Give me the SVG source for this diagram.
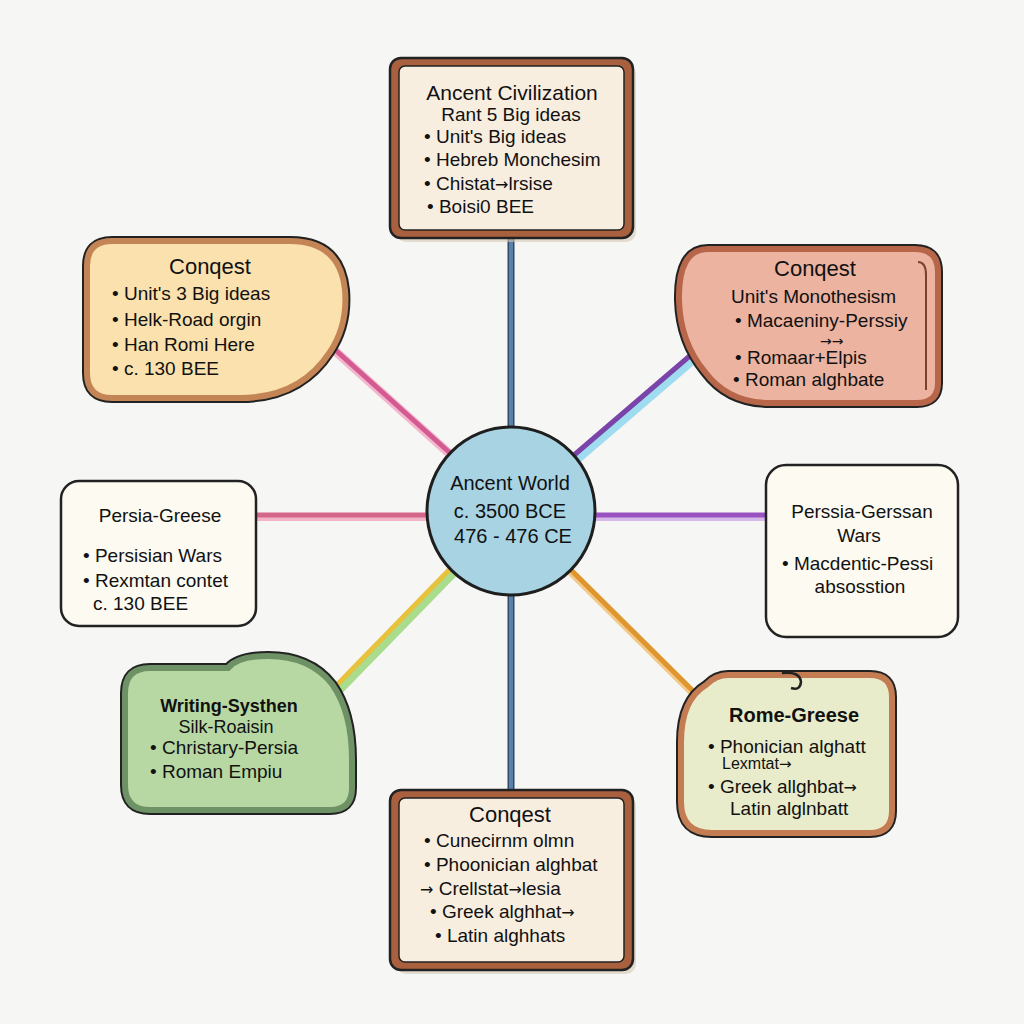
<svg xmlns="http://www.w3.org/2000/svg" width="1024" height="1024" viewBox="0 0 1024 1024">
<style>
text{font-family:"Liberation Sans",Arial,sans-serif;font-size:19px;fill:#111}
.t{font-size:22px;text-anchor:middle}
.c{text-anchor:middle}
.b{font-weight:bold}
.a{font-family:"DejaVu Sans",sans-serif;font-size:16px}
.ol{fill:none;stroke:#222;stroke-width:10;stroke-linejoin:round}
.ln{stroke-linecap:round;fill:none}
</style>
<rect width="1024" height="1024" fill="#f6f6f4"/>
<g id="connectors">
<line class="ln" x1="511" y1="238" x2="511" y2="430" stroke="#2f4a66" stroke-width="7"/>
<line class="ln" x1="511" y1="238" x2="511" y2="430" stroke="#5b82ab" stroke-width="4"/>
<line class="ln" x1="511" y1="592" x2="511" y2="792" stroke="#2f4a66" stroke-width="7"/>
<line class="ln" x1="511" y1="592" x2="511" y2="792" stroke="#5b82ab" stroke-width="4"/>
<line class="ln" x1="255" y1="517" x2="430" y2="517" stroke="#f2b4c6" stroke-width="8"/>
<line class="ln" x1="255" y1="515" x2="430" y2="515" stroke="#d4668a" stroke-width="5"/>
<line class="ln" x1="596" y1="517" x2="766" y2="517" stroke="#d7b8ea" stroke-width="8"/>
<line class="ln" x1="596" y1="515" x2="766" y2="515" stroke="#9a52c0" stroke-width="5"/>
<line class="ln" x1="334" y1="350" x2="452" y2="456" stroke="#f4b6cc" stroke-width="9"/>
<line class="ln" x1="332" y1="347" x2="450" y2="453" stroke="#d45a92" stroke-width="5"/>
<line class="ln" x1="576" y1="460" x2="702" y2="352" stroke="#9fdcf0" stroke-width="9"/>
<line class="ln" x1="573" y1="456" x2="699" y2="348" stroke="#7b44a8" stroke-width="5"/>
<line class="ln" x1="336" y1="693" x2="454" y2="572" stroke="#a9dc8c" stroke-width="9"/>
<line class="ln" x1="332" y1="690" x2="450" y2="569" stroke="#e8c23c" stroke-width="5"/>
<line class="ln" x1="570" y1="571" x2="696" y2="696" stroke="#f3c98a" stroke-width="8"/>
<line class="ln" x1="570" y1="569" x2="696" y2="694" stroke="#e0962e" stroke-width="5"/>
</g>
<g id="center">
<circle cx="511" cy="511" r="84" fill="#a7d3e3" stroke="#1e1e1e" stroke-width="3"/>
<text x="510" y="490" class="c" style="font-size:20px">Ancent World</text>
<text x="510" y="518" class="c" style="font-size:20px">c. 3500 BCE</text>
<text x="513" y="543" class="c" style="font-size:20px">476 - 476 CE</text>
</g>
<g id="node-top">
<rect x="396" y="64" width="240" height="178" rx="10" fill="#d9c9b6" opacity="0.6"/>
<rect x="390" y="58" width="243" height="180" rx="11" fill="#a8603f" stroke="#222" stroke-width="2.5"/>
<rect x="399" y="66" width="225" height="164" rx="6" fill="#f8eee0" stroke="#222" stroke-width="1.5"/>
<text x="512" y="100" class="t" style="font-size:21px">Ancent Civilization</text>
<text x="511" y="121" class="c">Rant 5 Big ideas</text>
<text x="424" y="143">• Unit's Big ideas</text>
<text x="424" y="166">• Hebreb Monchesim</text>
<text x="424" y="190">• Chistat<tspan class="a">→</tspan>lrsise</text>
<text x="427" y="213">• Boisi0 BEE</text>
</g>
<g id="node-upper-left">
<path class="ol" d="M112,241 L290,241 Q340,241 345,290 Q348,325 330,352 Q300,398 240,398 L112,398 Q87,398 87,373 L87,266 Q87,241 112,241 Z"/>
<path d="M112,241 L290,241 Q340,241 345,290 Q348,325 330,352 Q300,398 240,398 L112,398 Q87,398 87,373 L87,266 Q87,241 112,241 Z" fill="#fae1ad" stroke="#c48556" stroke-width="6"/>
<text x="210" y="274" class="t">Conqest</text>
<text x="112" y="300">• Unit's 3 Big ideas</text>
<text x="112" y="326">• Helk-Road orgin</text>
<text x="112" y="351">• Han Romi Here</text>
<text x="112" y="375">• c. 130 BEE</text>
</g>
<g id="node-upper-right">
<path class="ol" d="M708,249 L915,249 Q938,249 938,272 L938,383 Q938,403 917,403 L770,403 Q728,403 705,372 Q680,342 679,300 Q678,249 708,249 Z"/>
<path d="M708,249 L915,249 Q938,249 938,272 L938,383 Q938,403 917,403 L770,403 Q728,403 705,372 Q680,342 679,300 Q678,249 708,249 Z" fill="#ebb3a0" stroke="#b8664a" stroke-width="6"/>
<path d="M918,262 Q926,262 926,275 L926,390" fill="none" stroke="#7a4030" stroke-width="2"/>
<text x="815" y="276" class="t">Conqest</text>
<text x="731" y="303">Unit's Monothesism</text>
<text x="735" y="327">• Macaeniny-Perssiy</text>
<text x="820" y="346" class="a" style="font-size:14px">→→</text>
<text x="735" y="364">• Romaar+Elpis</text>
<text x="733" y="386">• Roman alghbate</text>
</g>
<g id="node-left">
<rect x="61" y="481" width="195" height="145" rx="18" fill="#fcfaf1" stroke="#222" stroke-width="2.5"/>
<text x="160" y="522" class="c">Persia-Greese</text>
<text x="83" y="562">• Persisian Wars</text>
<text x="83" y="587">• Rexmtan contet</text>
<text x="93" y="610">c. 130 BEE</text>
</g>
<g id="node-right">
<rect x="766" y="465" width="192" height="172" rx="20" fill="#fcfaf1" stroke="#222" stroke-width="2.5"/>
<text x="862" y="518" class="c">Perssia-Gerssan</text>
<text x="859" y="542" class="c">Wars</text>
<text x="782" y="570">• Macdentic-Pessi</text>
<text x="860" y="593" class="c">absosstion</text>
</g>
<g id="node-lower-left">
<path class="ol" d="M150,668 L228,668 Q238,656 268,656 Q310,656 332,684 Q352,712 352,760 L352,788 Q352,810 330,810 L150,810 Q125,810 125,785 L125,693 Q125,668 150,668 Z"/>
<path d="M150,668 L228,668 Q238,656 268,656 Q310,656 332,684 Q352,712 352,760 L352,788 Q352,810 330,810 L150,810 Q125,810 125,785 L125,693 Q125,668 150,668 Z" fill="#b7d8a3" stroke="#6e9166" stroke-width="6"/>
<text x="229" y="712" class="c b" style="font-size:18px">Writing-Systhen</text>
<text x="226" y="733" class="c" style="font-size:18px">Silk-Roaisin</text>
<text x="150" y="754">• Christary-Persia</text>
<text x="150" y="778">• Roman Empiu</text>
</g>
<g id="node-lower-right">
<path class="ol" d="M728,675 L870,675 Q892,675 892,697 L892,811 Q892,833 870,833 L712,833 Q681,833 681,802 L681,742 Q681,700 706,685 Q716,675 728,675 Z"/>
<path d="M728,675 L870,675 Q892,675 892,697 L892,811 Q892,833 870,833 L712,833 Q681,833 681,802 L681,742 Q681,700 706,685 Q716,675 728,675 Z" fill="#e9ecca" stroke="#c47c52" stroke-width="6"/>
<path d="M782,673 Q800,671 801,682 Q800,691 791,688" fill="none" stroke="#222" stroke-width="2.5"/>
<text x="794" y="722" class="c b" style="font-size:20px">Rome-Greese</text>
<text x="708" y="753">• Phonician alghatt</text>
<text x="722" y="769" style="font-size:16px">Lexmtat<tspan class="a" style="font-size:15px">→</tspan></text>
<text x="708" y="793">• Greek allghbat<tspan class="a">→</tspan></text>
<text x="730" y="815">Latin alglnbatt</text>
</g>
<g id="node-bottom">
<rect x="396" y="796" width="240" height="178" rx="10" fill="#d9c9b6" opacity="0.6"/>
<rect x="390" y="790" width="243" height="180" rx="11" fill="#a8603f" stroke="#222" stroke-width="2.5"/>
<rect x="399" y="798" width="225" height="164" rx="6" fill="#f8eee0" stroke="#222" stroke-width="1.5"/>
<text x="510" y="822" class="t">Conqest</text>
<text x="424" y="847">• Cunecirnm olmn</text>
<text x="424" y="871">• Phoonician alghbat</text>
<text x="420" y="895"><tspan class="a">→</tspan> Crellstat<tspan class="a">→</tspan>lesia</text>
<text x="430" y="918">• Greek alghhat<tspan class="a">→</tspan></text>
<text x="435" y="942">• Latin alghhats</text>
</g>
</svg>
